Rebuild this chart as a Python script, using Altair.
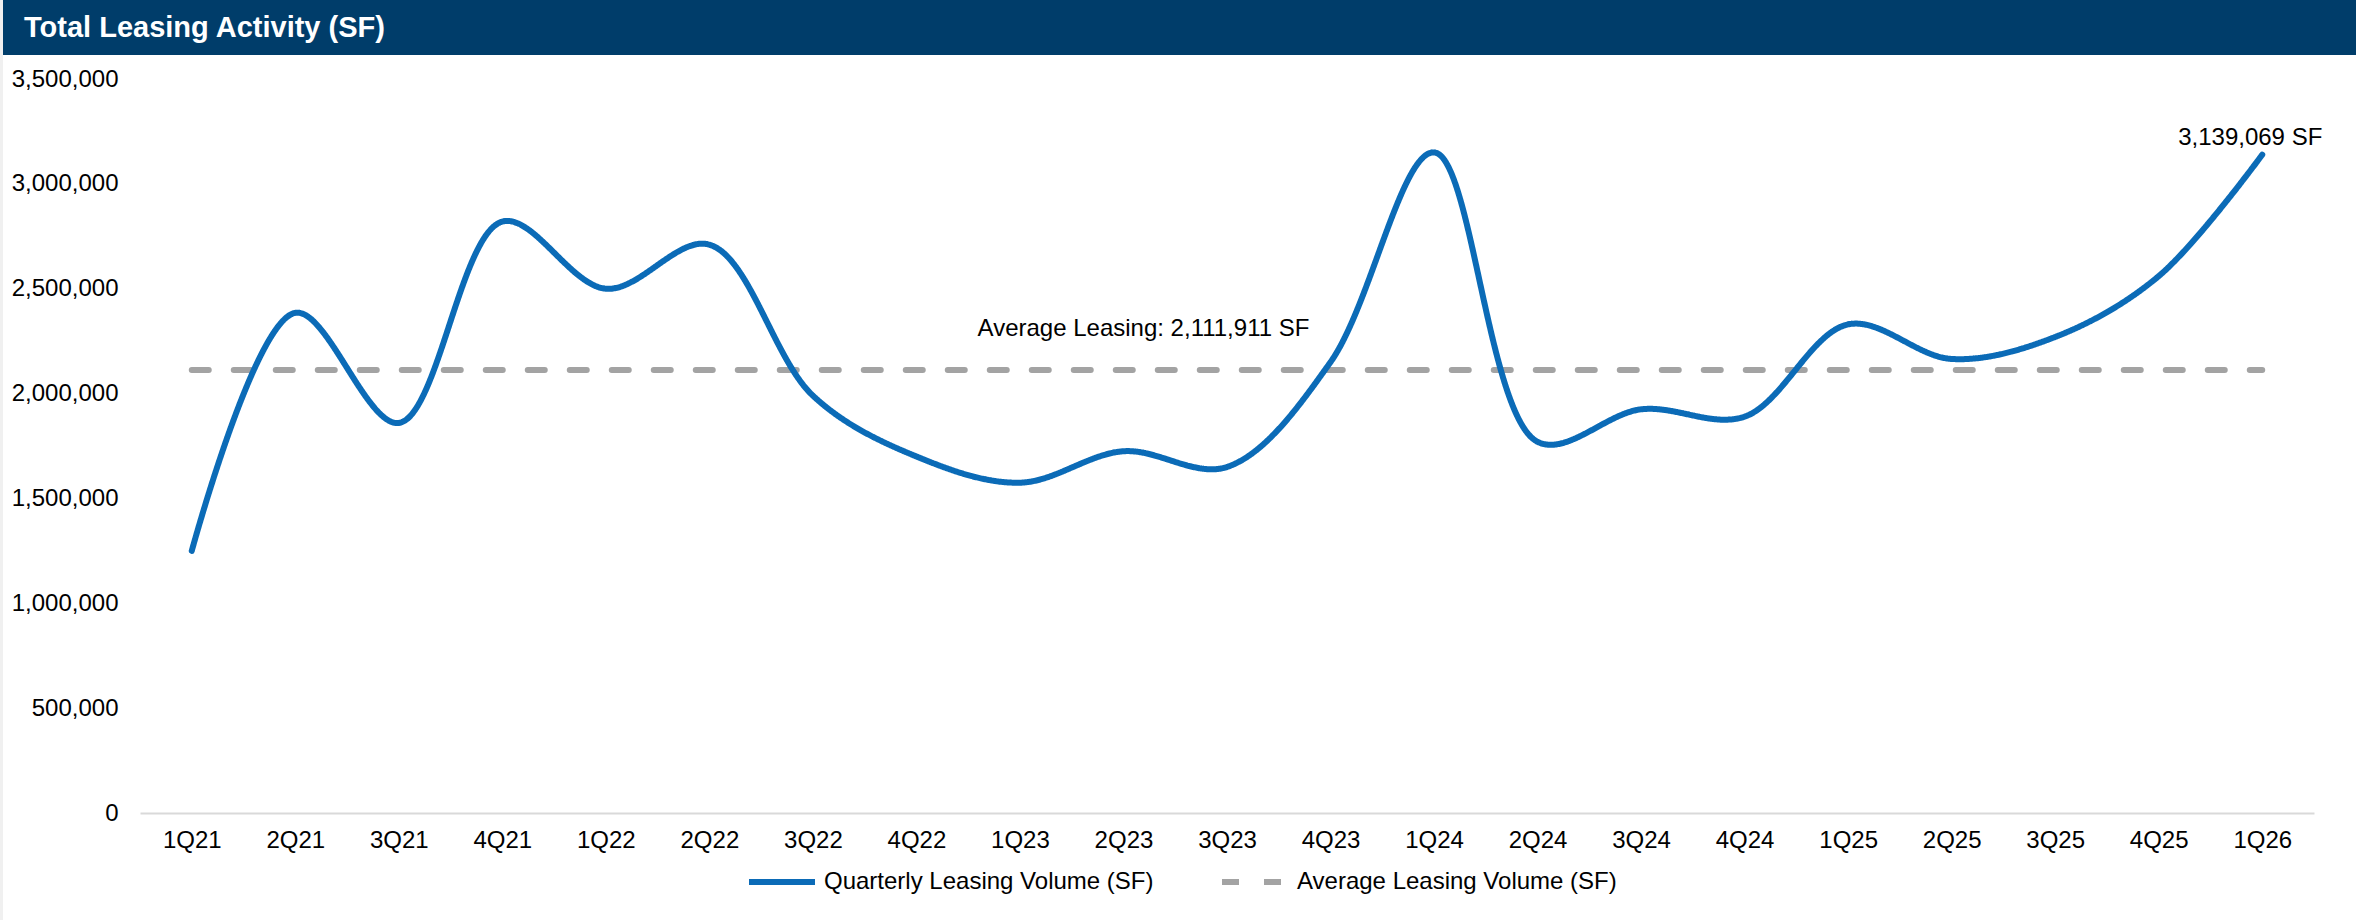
import altair as alt
import pandas as pd

# Quarterly leasing activity, in square feet
quarters = [
    "1Q21", "2Q21", "3Q21", "4Q21",
    "1Q22", "2Q22", "3Q22", "4Q22",
    "1Q23", "2Q23", "3Q23", "4Q23",
    "1Q24", "2Q24", "3Q24", "4Q24",
    "1Q25", "2Q25", "3Q25", "4Q25",
    "1Q26",
]
leasing_sf = [
    1250000, 2385000, 1860000, 2820000,
    2500000, 2710000, 1990000, 1700000,
    1575000, 1725000, 1650000, 2150000,
    3150000, 1770000, 1925000, 1890000,
    2330000, 2165000, 2270000, 2560000,
    3139069,
]
average_sf = 2111911
y_ticks = [0, 500000, 1000000, 1500000, 2000000, 2500000, 3000000, 3500000]

SERIES_QTR = "Quarterly Leasing Volume (SF)"
SERIES_AVG = "Average Leasing Volume (SF)"
TITLE = "Total Leasing Activity (SF)"

BLUE = "#0B6BB7"
GRAY = "#A3A3A3"
NAVY = "#003D6A"
FONT = "Liberation Sans"

n = len(quarters)
qtr_df = pd.DataFrame({"quarter": quarters, "sf": leasing_sf, "series": SERIES_QTR})
avg_df = pd.DataFrame({"quarter": quarters, "sf": [average_sf] * n, "series": SERIES_AVG})

W, H = 2174, 734

x_enc = alt.X(
    "quarter:N",
    sort=quarters,
    scale=alt.Scale(type="point", padding=0.5),
    axis=alt.Axis(
        title=None, labelAngle=0, ticks=False, labelPadding=15,
        domainColor="#D9D9D9", domainWidth=2,
    ),
)
y_enc = alt.Y(
    "sf:Q",
    scale=alt.Scale(domain=[0, 3500000], nice=False, zero=True),
    axis=alt.Axis(
        title=None, values=y_ticks, labelExpr="format(datum.value, ',')",
        ticks=False, domain=False, grid=False, labelPadding=22,
    ),
)
color_enc = alt.Color(
    "series:N",
    scale=alt.Scale(domain=[SERIES_QTR, SERIES_AVG], range=[BLUE, GRAY]),
    legend=alt.Legend(
        title=None, orient="none", direction="horizontal",
        legendX=606, legendY=767, symbolType="stroke", symbolSize=4356,
        symbolStrokeWidth=6, labelFontSize=24, labelFont=FONT, labelColor="#000000",
        labelOffset=6, labelLimit=0, columnPadding=56, padding=0,
    ),
)
dash_enc = alt.StrokeDash(
    "series:N",
    scale=alt.Scale(domain=[SERIES_QTR, SERIES_AVG], range=[[1, 0], [17, 25]]),
    legend=None,
)

avg_line = alt.Chart(avg_df).mark_line(strokeWidth=6, strokeCap="round").encode(
    x=x_enc, y=y_enc, color=color_enc, strokeDash=dash_enc
)
qtr_line = alt.Chart(qtr_df).mark_line(
    strokeWidth=6, strokeCap="round", interpolate="catmull-rom"
).encode(x=x_enc, y=y_enc, color=color_enc, strokeDash=dash_enc)

# Value label on the latest quarter
last_label = alt.Chart(qtr_df.tail(1)).mark_text(
    font=FONT, fontSize=24, color="#000000", dx=-12, dy=-17, baseline="middle"
).transform_calculate(
    label="format(datum.sf, ',') + ' SF'"
).encode(x=x_enc, y=y_enc, text="label:N")

# Average annotation above the dashed line
avg_label = alt.Chart(pd.DataFrame({"quarter": ["2Q23"], "sf": [average_sf]})).mark_text(
    font=FONT, fontSize=24, color="#000000", dx=20, dy=-41, baseline="middle"
).transform_calculate(
    label="'Average Leasing: ' + format(datum.sf, ',') + ' SF'"
).encode(x=x_enc, y=y_enc, text="label:N")

# Header band and left edge strip
one_row = alt.Data(values=[{"k": 1}])
header = alt.Chart(one_row).mark_rect(color=NAVY).encode(
    x=alt.value(-137), x2=alt.value(W + 42), y=alt.value(-79), y2=alt.value(-24)
)
edge = alt.Chart(one_row).mark_rect(color="#F0F0F0").encode(
    x=alt.value(-140), x2=alt.value(-137), y=alt.value(-79), y2=alt.value(H + 107)
)
header_text = alt.Chart(one_row).mark_text(
    font=FONT, fontSize=29, fontWeight="bold", color="#FFFFFF",
    align="left", baseline="middle",
).encode(x=alt.value(-116), y=alt.value(-51), text=alt.value(TITLE))

chart = alt.layer(
    header, edge, header_text, avg_line, qtr_line, avg_label, last_label
).properties(
    width=W, height=H,
    autosize=alt.AutoSizeParams(type="none"),
    padding={"left": 140, "top": 79, "right": 42, "bottom": 107},
    background="#FFFFFF",
).configure_view(
    stroke=None
).configure_axis(
    labelFont=FONT, labelFontSize=24, labelColor="#000000"
)

chart.save("out.html", embed_options={"renderer": "svg", "actions": False})
